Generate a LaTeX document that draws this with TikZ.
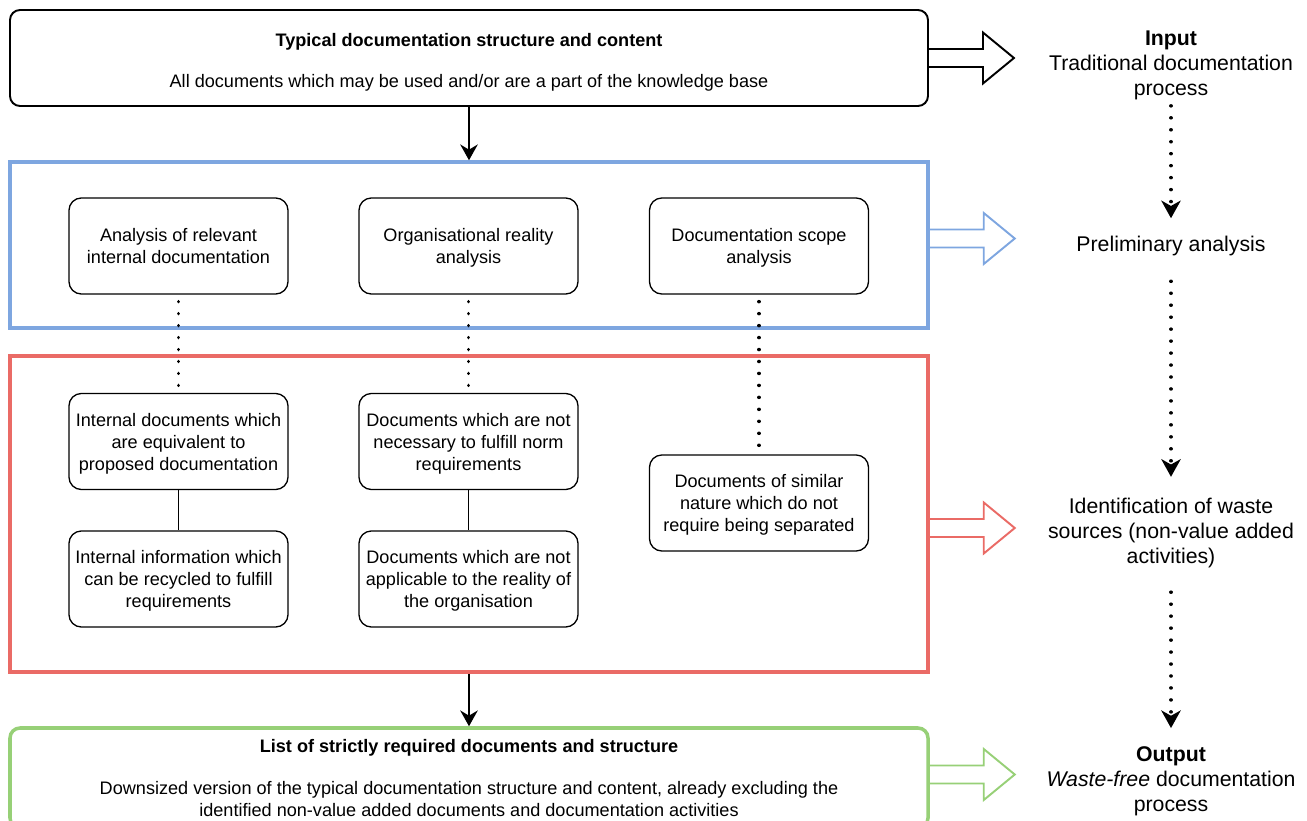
\documentclass[tikz,border=0pt]{standalone}
\usepackage{fontspec}
\setmainfont{Liberation Sans}
\definecolor{frameblue}{RGB}{126, 166, 224}
\definecolor{framered}{RGB}{234, 107, 102}
\definecolor{framegreen}{RGB}{151, 208, 119}
\usetikzlibrary{arrows.meta, positioning, calc}

\tikzset{
  boxfont/.style={font=\fontsize{10.3}{12.5}\selectfont},
  sidefont/.style={font=\fontsize{12.1}{14.2}\selectfont, align=center, inner sep=0pt},
  stage/.style={draw=#1, line width=2pt, minimum width=18.36cm, inner sep=0pt},
  stepbox/.style={draw, rounded corners=7pt, line width=0.75pt, minimum width=4.38cm, minimum height=1.92cm, align=center, text depth=0pt, boxfont},
  flowarrow/.style={line width=1.1pt, -{Stealth[length=9pt, width=10pt, inset=3pt]}},
  dotline/.style={line width=2pt, line cap=round, dash pattern=on 0.01pt off 6.8pt},
  dotarrow/.style={dotline, -{Stealth[length=10pt, width=11pt, inset=3pt]}},
  hollowarrow/.pic={
    \draw[pic actions, line width=1.1pt, line join=miter]
      (0,0.18) -- (1.08,0.18) -- (1.08,0.51) -- (1.7,0) -- (1.08,-0.51) -- (1.08,-0.18) -- (0,-0.18);
  }
}

\begin{document}
\begin{tikzpicture}
  \useasboundingbox (0,0) rectangle (26.14,-16.42);

  % Typical documentation
  \node[draw, line width=1.1pt, rounded corners=0.2cm, minimum width=18.36cm, minimum height=1.92cm] (typical) at (9.38, -1.16) {};
  \node[align=center, boxfont] (typicaltext) at (9.38, -1.24) {
    \textbf{Typical documentation structure and content}\\[10.8pt]
    All documents which may be used and/or are a part of the knowledge base
  };

  % Preliminary analysis frame
  \node[stage=frameblue, minimum height=3.32cm] (prelimframe) at (9.38, -4.9) {};
  \node[stepbox] (relevant) at (3.57, -4.92) {Analysis of relevant\\internal documentation};
  \node[stepbox] (reality) at (9.37, -4.92) {Organisational reality\\analysis};
  \node[stepbox] (scope) at (15.18, -4.92) {Documentation scope\\analysis};

  % Waste identification frame
  \node[stage=framered, minimum height=6.32cm] (wasteframe) at (9.38, -10.28) {};
  \node[stepbox] (equivalent) at (3.57, -8.83) {Internal documents which\\are equivalent to\\proposed documentation};
  \node[stepbox] (recycled) at (3.57, -11.58) {Internal information which\\can be recycled to fulfill\\requirements};
  \node[stepbox] (unneeded) at (9.37, -8.83) {Documents which are not\\necessary to fulfill norm\\requirements};
  \node[stepbox] (inapplicable) at (9.37, -11.58) {Documents which are not\\applicable to the reality of\\the organisation};
  \node[stepbox] (similar) at (15.18, -10.06) {Documents of similar\\nature which do not\\require being separated};

  % Required documents
  \node[stage=framegreen, rounded corners=0.2cm, minimum height=2cm, align=center, boxfont] (required) at (9.38, -15.56) {
    \textbf{List of strictly required documents and structure}\\[11.9pt]
    Downsized version of the typical documentation structure and content, already excluding the\\
    identified non-value added documents and documentation activities
  };

  % Process stages
  \node[sidefont] (input) at (23.42, -1.3) {\textbf{Input}\\Traditional documentation\\process};
  \node[sidefont] (prelim) at (23.42, -4.92) {Preliminary analysis};
  \node[sidefont] (waste) at (23.42, -10.66) {Identification of waste\\sources (non-value added\\activities)};
  \node[sidefont] (output) at (23.42, -15.62) {\textbf{Output}\\\textit{Waste-free} documentation\\process};

  % Connectors
  \draw[flowarrow] (typical.south) -- (prelimframe.north);
  \draw[flowarrow] (wasteframe.south) -- (required.north);
  \draw[dotline, shorten <=0.14cm, shorten >=0.1cm] (relevant.south) -- (equivalent.north);
  \draw[dotline, shorten <=0.14cm, shorten >=0.1cm] (reality.south) -- (unneeded.north);
  \draw[dotline, shorten <=0.14cm, shorten >=0.1cm] (scope.south) -- (similar.north);
  \draw[line width=1.1pt] (equivalent.south) -- (recycled.north);
  \draw[line width=1.1pt] (unneeded.south) -- (inapplicable.north);
  \draw[dotarrow, shorten <=0.12cm, shorten >=0.35cm] (input.south) -- (prelim.north);
  \draw[dotarrow, shorten <=0.5cm, shorten >=0.42cm] (prelim.south) -- (waste.north);
  \draw[dotarrow, shorten <=0.48cm, shorten >=0.36cm] (waste.south) -- (output.north);

  % Hollow arrows
  \pic[draw=black] at (typical.east) {hollowarrow};
  \pic[draw=frameblue] at ([yshift=0.13cm]prelimframe.east) {hollowarrow};
  \pic[draw=framered] at ([yshift=-0.28cm]wasteframe.east) {hollowarrow};
  \pic[draw=framegreen] at ([yshift=0.07cm]required.east) {hollowarrow};
\end{tikzpicture}
\end{document}
